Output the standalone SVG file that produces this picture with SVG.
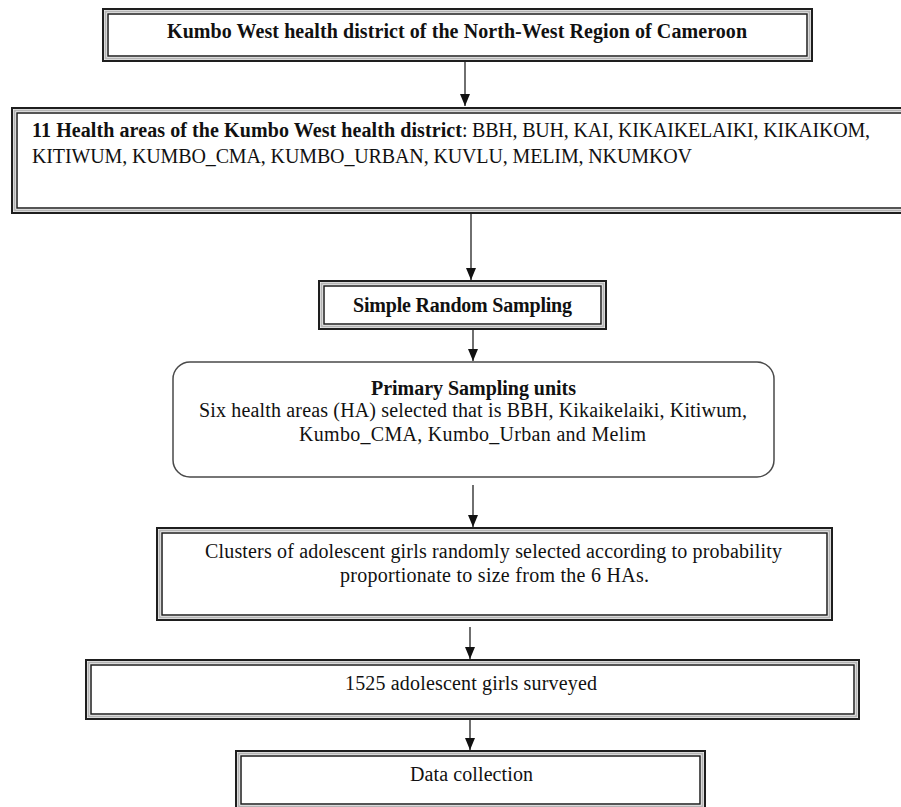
<svg xmlns="http://www.w3.org/2000/svg" width="901" height="807" viewBox="0 0 901 807">
<style>
.o{fill:#fff;stroke:#1e1e1e;stroke-width:2}
.m{fill:none;stroke:#b4b4b4;stroke-width:2}
.i{fill:none;stroke:#1e1e1e;stroke-width:1.5}
.r{fill:#fff;stroke:#4a4a4a;stroke-width:1.5}
text{font-family:"Liberation Serif","Times New Roman",serif;font-size:20px;fill:#111}
.b{font-weight:bold}
.c{stroke:#222;stroke-width:1.3;fill:none;marker-end:url(#ah)}
</style>
<defs>
<marker id="ah" markerUnits="userSpaceOnUse" viewBox="0 0 10 12" refX="5" refY="12" markerWidth="10" markerHeight="12" orient="0">
<path d="M0,0 L10,0 L5,12 Z" fill="#111"/>
</marker>
</defs>
<rect width="901" height="807" fill="#fff"/>
<g id="connectors">
<line class="c" x1="465" y1="62" x2="465" y2="106"/>
<line class="c" x1="471" y1="214" x2="471" y2="280"/>
<line class="c" x1="473" y1="330" x2="473" y2="361"/>
<line class="c" x1="473" y1="485" x2="473" y2="527"/>
<line class="c" x1="470" y1="627" x2="470" y2="659"/>
<line class="c" x1="470" y1="719" x2="470" y2="750"/>
</g>
<g id="n1">
<rect class="o" x="103" y="9" width="709" height="52"/>
<rect class="m" x="105.5" y="11.5" width="704" height="47"/>
<rect class="i" x="108" y="14" width="699" height="42"/>
<text class="b" x="167" y="38" textLength="580">Kumbo West health district of the North-West Region of Cameroon</text>
</g>
<g id="n2">
<rect class="o" x="12" y="108" width="900" height="105"/>
<rect class="m" x="14.5" y="110.5" width="895" height="100"/>
<rect class="i" x="17" y="113" width="890" height="95"/>
<text class="b" x="32" y="137" textLength="430">11 Health areas of the Kumbo West health district</text>
<text x="462" y="137">:</text>
<text x="472" y="137" textLength="398">BBH, BUH, KAI, KIKAIKELAIKI, KIKAIKOM,</text>
<text x="32" y="163" textLength="660">KITIWUM, KUMBO_CMA, KUMBO_URBAN, KUVLU, MELIM, NKUMKOV</text>
</g>
<g id="n3">
<rect class="o" x="319" y="281" width="287" height="48"/>
<rect class="m" x="321.5" y="283.5" width="282" height="43"/>
<rect class="i" x="324" y="286" width="277" height="38"/>
<text class="b" x="353" y="312" textLength="219">Simple Random Sampling</text>
</g>
<g id="n4">
<rect class="r" x="173" y="362" width="601" height="115" rx="17" ry="17"/>
<text class="b" x="371" y="395" textLength="205">Primary Sampling units</text>
<text x="199" y="417" textLength="548">Six health areas (HA) selected that is BBH, Kikaikelaiki, Kitiwum,</text>
<text x="299" y="441" textLength="347">Kumbo_CMA, Kumbo_Urban and Melim</text>
</g>
<g id="n5">
<rect class="o" x="157" y="528" width="675" height="92"/>
<rect class="m" x="159.5" y="530.5" width="670" height="87"/>
<rect class="i" x="162" y="533" width="665" height="82"/>
<text x="205" y="558" textLength="577">Clusters of adolescent girls randomly selected according to probability</text>
<text x="340" y="582" textLength="309">proportionate to size from the 6 HAs.</text>
</g>
<g id="n6">
<rect class="o" x="86" y="660" width="773" height="59"/>
<rect class="m" x="88.5" y="662.5" width="768" height="54"/>
<rect class="i" x="91" y="665" width="763" height="49"/>
<text x="345" y="690" textLength="252">1525 adolescent girls surveyed</text>
</g>
<g id="n7">
<rect class="o" x="236" y="751" width="469" height="58"/>
<rect class="m" x="238.5" y="753.5" width="464" height="53"/>
<rect class="i" x="241" y="756" width="459" height="48"/>
<text x="410" y="781" textLength="123">Data collection</text>
</g>
</svg>
